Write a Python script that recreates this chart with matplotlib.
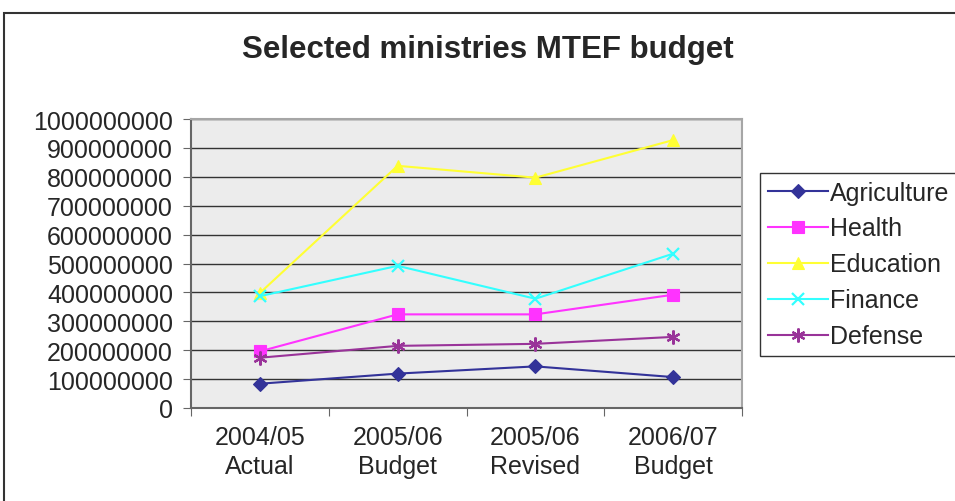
import matplotlib.pyplot as plt
from matplotlib.patches import Rectangle

plt.rcParams['font.family'] = ['Liberation Sans', 'DejaVu Sans']

categories = ['2004/05\nActual', '2005/06\nBudget', '2005/06\nRevised', '2006/07\nBudget']
agriculture = [84e6, 119e6, 144e6, 107e6]
health = [196e6, 324e6, 324e6, 392e6]
education = [398e6, 838e6, 797e6, 927e6]
finance = [387e6, 492e6, 378e6, 534e6]
defense = [174e6, 215e6, 222e6, 246e6]

series = [
    ('Agriculture', agriculture, '#333399', 'D', 7),
    ('Health', health, '#FF33FF', 's', 8),
    ('Education', education, '#FFFF33', '^', 9),
    ('Finance', finance, '#33FFFF', 'x', 9),
    ('Defense', defense, '#993399', (6, 2, 0), 10),
]

text_color = '#262626'

fig = plt.figure(figsize=(9.55, 5.02), dpi=100)
W, H = 955, 502

# outer chart frame (runs off the right and bottom edges)
fig.patches.append(Rectangle((4 / W, -0.05), 1.1, (H - 14) / H + 0.05,
                             transform=fig.transFigure, fill=False,
                             edgecolor='#333333', linewidth=1.5))

ax = fig.add_axes([191 / W, (H - 409) / H, (742 - 191) / W, (409 - 120) / H])
ax.set_facecolor('#ECECEC')

x = list(range(len(categories)))
for name, vals, color, marker, ms in series:
    mew = 1.6 if marker in ('x', (6, 2, 0)) else 0.8
    ax.plot(x, vals, color=color, linewidth=1.5, marker=marker, markersize=ms,
            markerfacecolor=color, markeredgecolor=color, markeredgewidth=mew,
            label=name, zorder=3)

ax.set_xlim(-0.5, len(categories) - 0.5)
ax.set_ylim(0, 1e9)
yticks = [i * 100000000 for i in range(11)]
ax.set_yticks(yticks)
ax.set_yticklabels([str(v) for v in yticks])
ax.yaxis.grid(True, color='#333333', linewidth=1.0)
ax.set_axisbelow(True)

ax.set_xticks([i - 0.5 for i in range(len(categories) + 1)])
ax.set_xticklabels([])
ax.set_xticks(x, minor=True)
ax.set_xticklabels(categories, minor=True, linespacing=1.3)
ax.tick_params(axis='x', which='major', length=6, direction='out', color='#666666')
ax.tick_params(axis='x', which='minor', length=0, pad=12, labelsize=18,
               labelcolor=text_color)
ax.tick_params(axis='y', length=6, direction='out', color='#666666', pad=7,
               labelsize=18, labelcolor=text_color)

for side in ('left', 'bottom'):
    ax.spines[side].set_color('#666666')
    ax.spines[side].set_linewidth(1.5)
for side in ('top', 'right'):
    ax.spines[side].set_color('#A6A6A6')
    ax.spines[side].set_linewidth(1.5)

fig.text(488 / W, (H - 50) / H, 'Selected ministries MTEF budget', ha='center',
         va='center', fontsize=22.5, fontweight='bold', color=text_color)

leg = fig.legend(loc='upper left', bbox_to_anchor=(760 / W, (H - 174) / H),
                 fontsize=18, frameon=True, fancybox=False, borderpad=0.3,
                 labelspacing=0.48, handlelength=2.4, handletextpad=0.1,
                 borderaxespad=0)
leg.get_frame().set_edgecolor('#000000')
leg.get_frame().set_linewidth(1.0)
for t in leg.get_texts():
    t.set_color(text_color)

fig.savefig('out.png', dpi=100)
